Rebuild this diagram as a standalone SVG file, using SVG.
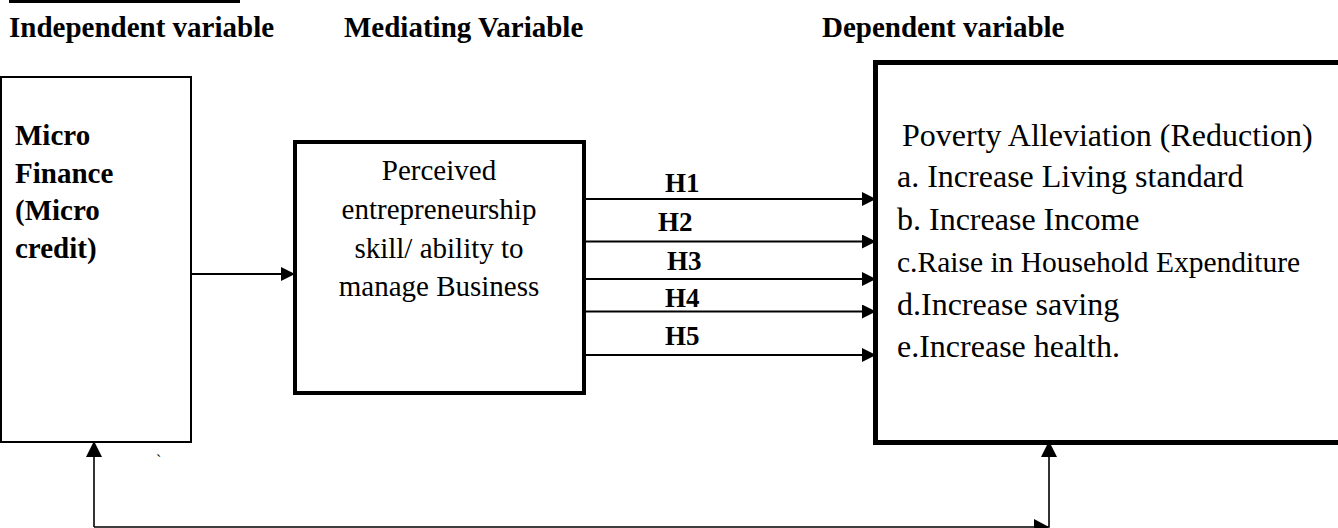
<svg xmlns="http://www.w3.org/2000/svg" width="1338" height="528" viewBox="0 0 1338 528">
<style>
.hd{font-family:"Liberation Serif","Times New Roman",serif;font-weight:bold;font-size:29px;fill:#000}
.bl{font-family:"Liberation Serif","Times New Roman",serif;font-weight:bold;font-size:29px;fill:#000}
.md{font-family:"Liberation Serif","Times New Roman",serif;font-size:29px;fill:#000}
.rt{font-family:"Liberation Serif","Times New Roman",serif;font-size:32px;fill:#000}
.hl{font-family:"Liberation Serif","Times New Roman",serif;font-weight:bold;font-size:27px;fill:#000}
.box{fill:#fff;stroke:#000}
.ln{fill:none;stroke:#000;stroke-width:2}
.fb{fill:none;stroke:#000;stroke-width:1.6}
</style>
<defs>
<marker id="ah" markerUnits="userSpaceOnUse" markerWidth="14" markerHeight="14" refX="12" refY="7" orient="auto" viewBox="0 0 14 14">
<path d="M0,0 L14,7 L0,14 z" fill="#000"/>
</marker>
<marker id="au" markerUnits="userSpaceOnUse" markerWidth="16" markerHeight="16" refX="14" refY="8" orient="auto" viewBox="0 0 16 16">
<path d="M0,0 L16,8 L0,16 z" fill="#000"/>
</marker>
</defs>
<rect x="0" y="0" width="1338" height="528" fill="#fff"/>
<g id="headings">
<rect x="9" y="0" width="231" height="3" fill="#000"/>
<text class="hd" x="9" y="37">Independent variable</text>
<text class="hd" x="344" y="37">Mediating Variable</text>
<text class="hd" x="822" y="37">Dependent variable</text>
</g>
<g id="node-microfinance">
<rect class="box" x="1" y="77" width="190" height="365" stroke-width="2"/>
<text class="bl" x="15" y="145">Micro</text>
<text class="bl" x="15" y="182.5">Finance</text>
<text class="bl" x="15" y="220">(Micro</text>
<text class="bl" x="15" y="257.5">credit)</text>
</g>
<g id="node-mediating">
<rect class="box" x="295" y="142" width="289" height="251" stroke-width="4"/>
<text class="md" x="439" y="180" text-anchor="middle">Perceived</text>
<text class="md" x="439" y="219" text-anchor="middle">entrepreneurship</text>
<text class="md" x="439" y="257.5" text-anchor="middle">skill/ ability to</text>
<text class="md" x="439" y="296" text-anchor="middle">manage Business</text>
</g>
<g id="node-poverty">
<rect class="box" x="875.5" y="62.5" width="500" height="380" stroke-width="5"/>
<text class="rt" x="902" y="146">Poverty Alleviation (Reduction)</text>
<text class="rt" x="897" y="187">a. Increase Living standard</text>
<text class="rt" x="897" y="230">b. Increase Income</text>
<text class="rt" x="897" y="271.5" style="font-size:29.5px">c.Raise in Household Expenditure</text>
<text class="rt" x="897" y="315">d.Increase saving</text>
<text class="rt" x="897" y="356.5">e.Increase health.</text>
</g>
<g id="connectors">
<line class="ln" x1="191" y1="274" x2="293" y2="274" marker-end="url(#ah)"/>
<line class="ln" x1="586" y1="199" x2="874" y2="199" marker-end="url(#ah)"/>
<line class="ln" x1="586" y1="241.5" x2="874" y2="241.5" marker-end="url(#ah)"/>
<line class="ln" x1="586" y1="279" x2="874" y2="279" marker-end="url(#ah)"/>
<line class="ln" x1="586" y1="311.5" x2="874" y2="311.5" marker-end="url(#ah)"/>
<line class="ln" x1="586" y1="355" x2="874" y2="355" marker-end="url(#ah)"/>
<text class="hl" x="665" y="192">H1</text>
<text class="hl" x="658" y="231">H2</text>
<text class="hl" x="667" y="270">H3</text>
<text class="hl" x="665" y="306.5">H4</text>
<text class="hl" x="665" y="345">H5</text>
<polyline class="fb" points="94,527 94,443" marker-end="url(#au)"/>
<polyline class="fb" points="94,527 1049,527 1049,443" marker-end="url(#au)"/>
<polygon points="1034,519 1049,527 1034,535" fill="#000"/>
</g>
<text x="156" y="466" style="font-family:'Liberation Serif',serif;font-size:16px">`</text>
</svg>
